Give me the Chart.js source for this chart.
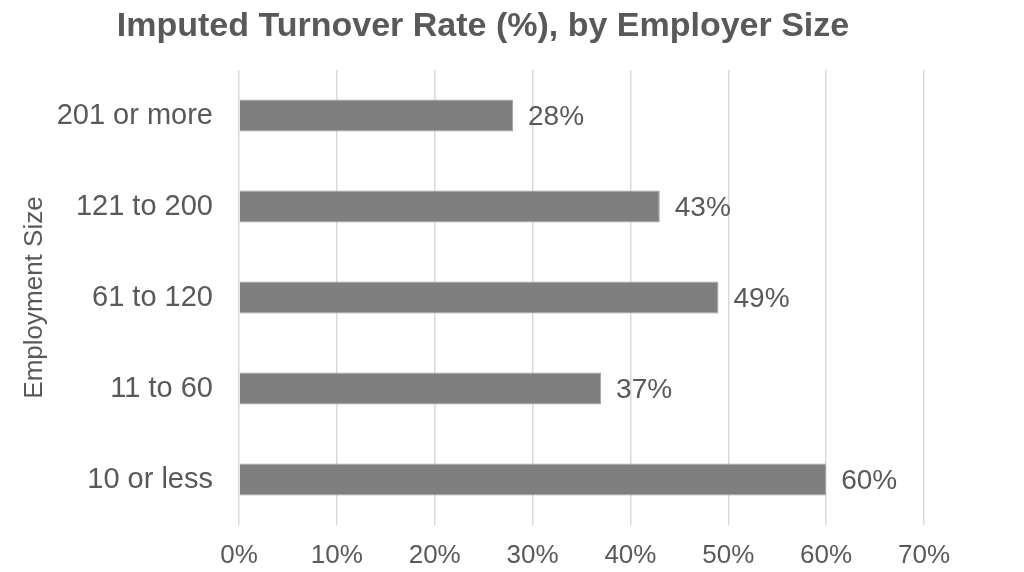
<!DOCTYPE html>
<html>
<head>
<meta charset="utf-8">
<script src="https://cdn.jsdelivr.net/npm/chart.js@4"></script>
<style>
  html, body { margin: 0; padding: 0; background: #fff; }
  #wrap { width: 1024px; height: 572px; }
</style>
</head>
<body>
<div id="wrap"><canvas id="chart" width="1024" height="572"></canvas></div>
<script>
const categories = ['201 or more', '121 to 200', '61 to 120', '11 to 60', '10 or less'];
const turnoverRates = [28, 43, 49, 37, 60];
const xTicks = [0, 10, 20, 30, 40, 50, 60, 70];

const chartTitle = 'Imputed Turnover Rate (%), by Employer Size';
const axisTitle = 'Employment Size';
const textColor = '#595959';
const fontFamily = '"Liberation Sans", Arial, sans-serif';

// draws the value next to each bar, and the chart title
const labelsPlugin = {
  id: 'barLabels',
  afterDatasetsDraw(chart) {
    const ctx = chart.ctx;
    const meta = chart.getDatasetMeta(0);
    ctx.save();
    ctx.font = '28px ' + fontFamily;
    ctx.fillStyle = textColor;
    ctx.textAlign = 'left';
    ctx.textBaseline = 'middle';
    meta.data.forEach((bar, i) => {
      ctx.fillText(turnoverRates[i] + '%', bar.x + 15, bar.y + 2);
    });
    ctx.font = 'bold 34px ' + fontFamily;
    ctx.textAlign = 'center';
    ctx.textBaseline = 'alphabetic';
    ctx.fillText(chartTitle, 483, 36);
    ctx.restore();
  }
};

new Chart(document.getElementById('chart'), {
  type: 'bar',
  data: {
    labels: categories,
    datasets: [{
      data: turnoverRates,
      backgroundColor: '#7f7f7f',
      borderColor: '#a5a5a5',
      borderWidth: 1,
      barPercentage: 0.35,
      categoryPercentage: 1.0
    }]
  },
  options: {
    indexAxis: 'y',
    responsive: false,
    animation: false,
    layout: { padding: { top: 70, right: 100, left: 0, bottom: 0 } },
    plugins: {
      legend: { display: false },
      tooltip: { enabled: false },
      title: { display: false }
    },
    scales: {
      x: {
        min: 0,
        max: 70,
        afterBuildTicks: scale => { scale.ticks = xTicks.map(v => ({ value: v })); },
        afterFit: scale => { scale.height = 47; },
        ticks: {
          callback: v => v + '%',
          color: textColor,
          font: { family: fontFamily, size: 26 },
          padding: 15,
          maxRotation: 0
        },
        grid: { color: '#d9d9d9', lineWidth: 1.5, drawTicks: false },
        border: { display: false }
      },
      y: {
        afterFit: scale => { scale.width = 239; },
        ticks: {
          color: textColor,
          font: { family: fontFamily, size: 29 },
          padding: 26
        },
        afterDataLimits: () => {},
        grid: { display: false, drawTicks: false },
        border: { display: false },
        title: {
          display: true,
          text: axisTitle,
          color: textColor,
          font: { family: fontFamily, size: 26 },
          padding: { top: 19, bottom: 0 }
        }
      }
    }
  },
  plugins: [labelsPlugin]
});
</script>
</body>
</html>
